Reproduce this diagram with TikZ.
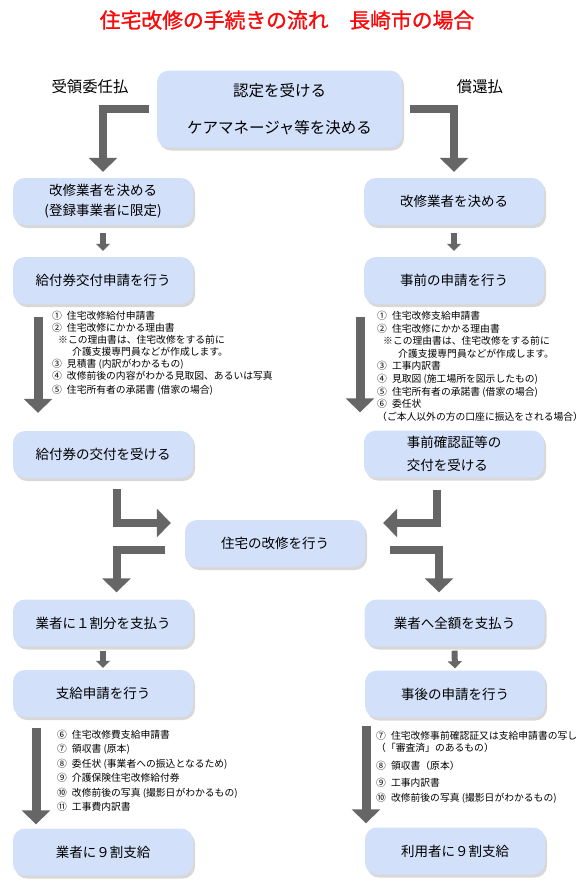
\documentclass[tikz,border=0pt]{standalone}
\usepackage{fontspec}
\setmainfont{Noto Sans CJK JP}
\newfontfamily\titlefont[FakeBold=1.2]{Noto Sans CJK JP}
\usetikzlibrary{arrows.meta,shadows}
\definecolor{boxblue}{RGB}{210,224,250}
\definecolor{arrowgray}{RGB}{102,102,102}
\definecolor{titlered}{RGB}{250,10,10}
\newcommand{\docno}[1]{#1\hspace{5pt}}

\begin{document}
\begin{tikzpicture}[x=1pt,y=-1pt,
    stepbox/.style={rectangle, rounded corners=12pt, fill=boxblue, minimum width=180pt,
      minimum height=47pt, inner sep=0pt, align=center, font=\fontsize{13.5}{20}\selectfont,
      drop shadow={shadow xshift=2pt, shadow yshift=-3pt, opacity=0.3}},
    doclist/.style={anchor=north west, inner sep=0pt, align=left},
    bendarrow/.style={draw=arrowgray, line width=8pt, -{Triangle[width=28pt,length=14pt]}},
    longarrow/.style={draw=arrowgray, line width=9pt, -{Triangle[width=28pt,length=14pt]}},
    smallarrow/.style={draw=arrowgray, line width=6pt, -{Triangle[width=14pt,length=7pt]}}]
      \path[use as bounding box, fill=white] (0,0) rectangle (588,894);

      % Title and the two ways of payment
      \node[text=titlered, font=\titlefont\fontsize{20.8}{24}\selectfont] (title) at (287,20) {住宅改修の手続きの流れ　長崎市の場合};
      \node[font=\fontsize{15.4}{18}\selectfont] (proxy) at (90,87) {受領委任払};
      \node[font=\fontsize{15.4}{18}\selectfont] (refund) at (480,87) {償還払};

      % Common first step
      \node[stepbox, minimum width=245pt, minimum height=77pt, font=\fontsize{15.5}{19}\selectfont]
        (Top) at (279.5,109) {認定を受ける\\[18pt]ケアマネージャ等を決める};

      % Left column (receipt by proxy)
      \node[stepbox] (L2) at (103,201.5) {改修業者を決める\\(登録事業者に限定)};
      \node[stepbox] (L3) at (103,280.5) {給付券交付申請を行う};
      \node[stepbox] (L4) at (103,454.5) {給付券の交付を受ける};
      \node[stepbox] (L5) at (103,623) {業者に１割分を支払う};
      \node[stepbox] (L6) at (103,693.5) {支給申請を行う};
      \node[stepbox] (L7) at (103,852) {業者に９割支給};

      % Right column (refund)
      \node[stepbox] (R2) at (454,201.5) {改修業者を決める};
      \node[stepbox] (R3) at (454,280.5) {事前の申請を行う};
      \node[stepbox, align=left, font=\fontsize{13.5}{23}\selectfont] (R4) at (454,454) {事前確認証等の\\交付を受ける};
      \node[stepbox] (R5) at (454.5,623) {業者へ全額を支払う};
      \node[stepbox] (R6) at (455,694) {事後の申請を行う};
      \node[stepbox] (R7) at (455,851) {利用者に９割支給};

      % The building work in the middle
      \node[stepbox] (C) at (275,543.5) {住宅の改修を行う};

      % Papers to hand in
      \node[doclist, font=\fontsize{9.8}{12}\selectfont] (Ldocs1) at (52,311)
        {\docno{①}住宅改修給付申請書\\
         \docno{②}住宅改修にかかる理由書\\
         \hspace*{6pt}※この理由書は、住宅改修をする前に\\
         \hspace*{20pt}介護支援専門員などが作成します。\\
         \docno{③}見積書 (内訳がわかるもの)\\
         \docno{④}改修前後の内容がわかる見取図、あるいは写真\\[2pt]
         \docno{⑤}住宅所有者の承諾書 (借家の場合)};
      \node[doclist, font=\fontsize{9.8}{12.6}\selectfont] (Rdocs1) at (377,311)
        {\docno{①}住宅改修支給申請書\\
         \docno{②}住宅改修にかかる理由書\\
         \hspace*{6pt}※この理由書は、住宅改修をする前に\\
         \hspace*{21pt}介護支援専門員などが作成します。\\
         \docno{③}工事内訳書\\
         \docno{④}見取図 (施工場所を図示したもの)\\
         \docno{⑤}住宅所有者の承諾書 (借家の場合)\\
         \docno{⑥}委任状\\
         （ご本人以外の方の口座に振込をされる場合）};
      \node[doclist, font=\fontsize{9.8}{14.4}\selectfont] (Ldocs2) at (57,730)
        {\docno{⑥}住宅改修費支給申請書\\
         \docno{⑦}領収書 (原本)\\
         \docno{⑧}委任状 (事業者への振込となるため)\\
         \docno{⑨}介護保険住宅改修給付券\\
         \docno{⑩}改修前後の写真 (撮影日がわかるもの)\\
         \docno{⑪}工事費内訳書};
      \node[doclist, font=\fontsize{9.8}{12}\selectfont] (Rdocs2) at (376,731)
        {\docno{⑦}住宅改修事前確認証又は支給申請書の写し\\
         （「審査済」のあるもの）\\[6pt]
         \docno{⑧}領収書（原本）\\[5pt]
         \docno{⑨}工事内訳書\\[3pt]
         \docno{⑩}改修前後の写真 (撮影日がわかるもの)};

      % Arrows from the first step
      \draw[bendarrow] ([xshift=-8pt,yshift=0.5pt]Top.west) -| ([yshift=6pt]L2.north);
      \draw[bendarrow] ([xshift=8pt,yshift=0.5pt]Top.east) -| ([yshift=6pt]R2.north);

      % Arrows down the columns
      \draw[smallarrow] ([yshift=-8pt]L2.south) -- ([yshift=6pt]L3.north);
      \draw[smallarrow] ([yshift=-8pt]R2.south) -- ([yshift=6pt]R3.north);
      \draw[longarrow] ([xshift=-65pt,yshift=-13pt]L3.south) -- ([xshift=-65pt,yshift=18pt]L4.north);
      \draw[longarrow] ([xshift=-94pt,yshift=-13pt]R3.south) -- ([xshift=-94pt,yshift=18pt]R4.north);

      % Into and out of the building work
      \draw[bendarrow] ([xshift=13.5pt,yshift=-11pt]L4.south) |- ([xshift=-14pt,yshift=20.5pt]C.west);
      \draw[bendarrow] ([xshift=-17pt,yshift=-12pt]R4.south) |- ([xshift=18pt,yshift=20.5pt]C.east);
      \draw[bendarrow] ([xshift=-20pt,yshift=-6.5pt]C.west) -| ([xshift=13.5pt,yshift=7pt]L5.north);
      \draw[bendarrow] ([xshift=25pt,yshift=-6.5pt]C.east) -| ([xshift=-15.5pt,yshift=7pt]R5.north);

      % Arrows to the payment
      \draw[smallarrow] ([yshift=-4pt]L5.south) -- ([yshift=2pt]L6.north);
      \draw[smallarrow] ([yshift=-4pt]R5.south) -- ([yshift=2pt]R6.north);
      \draw[longarrow] ([xshift=-67pt,yshift=-11pt]L6.south) -- ([xshift=-67pt,yshift=4pt]L7.north);
      \draw[longarrow] ([xshift=-89pt,yshift=-8pt]R6.south) -- ([xshift=-89pt,yshift=4pt]R7.north);
    \end{tikzpicture}
\end{document}
